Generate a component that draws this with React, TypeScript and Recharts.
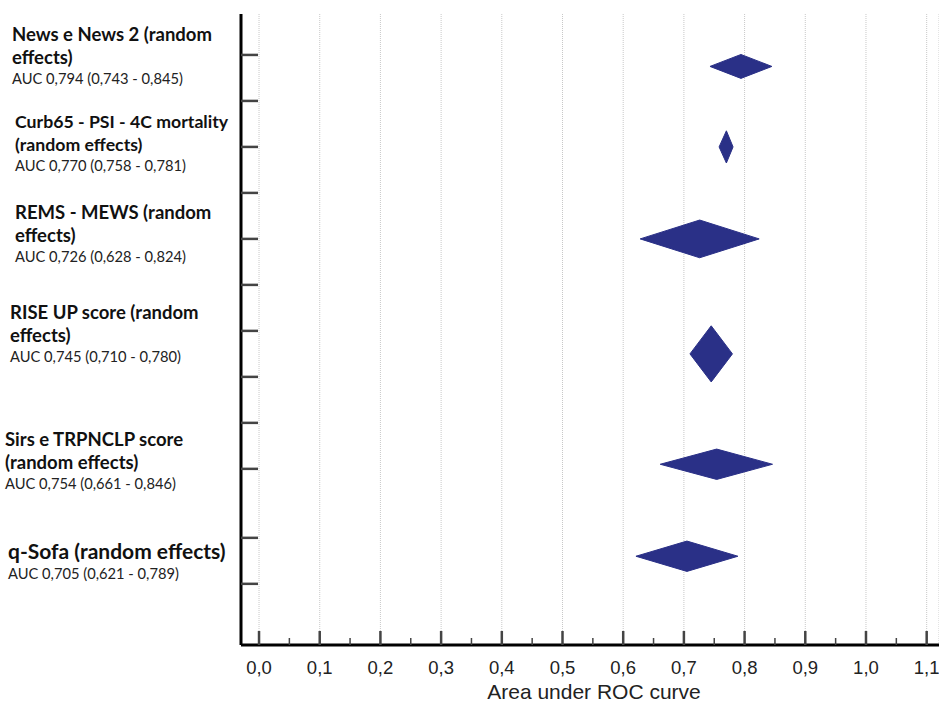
import React from "react";
import {
  ComposedChart,
  Scatter,
  XAxis,
  YAxis,
  CartesianGrid,
} from "recharts";

// ---------- data ----------
const titles: string[][] = [
  ["News e News 2 (random", "effects)"],
  ["Curb65 - PSI - 4C mortality", "(random effects)"],
  ["REMS - MEWS (random", "effects)"],
  ["RISE UP score (random", "effects)"],
  ["Sirs e TRPNCLP score", "(random effects)"],
  ["q-Sofa (random effects)"],
];
const auc = [0.794, 0.77, 0.726, 0.745, 0.754, 0.705];
const lo = [0.743, 0.758, 0.628, 0.71, 0.661, 0.621];
const hi = [0.845, 0.781, 0.824, 0.78, 0.846, 0.789];
const rowY = [1.25, 3, 5, 7.5, 9.9, 11.9];
const yTicks = [1, 2, 3, 4, 5, 6, 7, 8, 9, 10, 11.5, 12.5];
const majorTicks = [0, 0.1, 0.2, 0.3, 0.4, 0.5, 0.6, 0.7, 0.8, 0.9, 1.0, 1.1];
const minorTicks = [0.05, 0.15, 0.25, 0.35, 0.45, 0.55, 0.65, 0.75, 0.85, 0.95, 1.05];
const xTitle = "Area under ROC curve";

// ---------- layout / style ----------
const W = 939;
const H = 704;
const X_DOMAIN: [number, number] = [-0.0297, 1.1203];
const Y_DOMAIN: [number, number] = [0.11, 13.83];
const halfHeight = [0.26, 0.35, 0.41, 0.61, 0.33, 0.33];
const labelX = [12, 15, 15, 10, 5, 8];
const labelDy = [-25, -19, -20, -35, -18, 3];
const titleSize = [18.5, 17.7, 18.5, 18.5, 18.5, 21];
const DIAMOND = "#2a3087";
const LABEL_FONT = "Lato, 'Open Sans', sans-serif";
const AXIS_FONT = "'Liberation Sans', Arial, sans-serif";

const fmt3 = (v: number) => v.toFixed(3).replace(".", ",");
const fmt1 = (v: number) => v.toFixed(1).replace(".", ",");

const allXTicks = [...majorTicks, ...minorTicks].sort((a, b) => a - b);

const diamonds = auc.map((a, i) => [
  { x: lo[i], y: rowY[i] },
  { x: a, y: rowY[i] - halfHeight[i] },
  { x: hi[i], y: rowY[i] },
  { x: a, y: rowY[i] + halfHeight[i] },
  { x: lo[i], y: rowY[i] },
]);

const XTick = (props: any) => {
  const { x, y, payload } = props;
  const v = payload.value as number;
  const isMajor = majorTicks.some((m) => Math.abs(m - v) < 1e-6);
  return (
    <g>
      <line
        x1={x}
        x2={x}
        y1={y}
        y2={y - (isMajor ? 14 : 7)}
        stroke="#444"
        strokeWidth={isMajor ? 2.5 : 1.5}
      />
      {isMajor && (
        <text
          x={x}
          y={y + 29}
          textAnchor="middle"
          fontFamily={AXIS_FONT}
          fontSize={18.5}
          fill="#222"
        >
          {fmt1(v)}
        </text>
      )}
    </g>
  );
};

const RowTick = (props: any) => {
  const { x, y } = props;
  return <line x1={x} x2={x + 17} y1={y} y2={y} stroke="#444" strokeWidth={2.5} />;
};

const LabelTick = (props: any) => {
  const { y, index } = props;
  const i = index as number;
  const lines = titles[i];
  const base = y + labelDy[i];
  const lastTitle = base + (lines.length - 1) * 23;
  return (
    <g>
      <text
        fontFamily={LABEL_FONT}
        fontWeight={700}
        fontSize={titleSize[i]}
        fill="#111"
      >
        {lines.map((t, k) => (
          <tspan key={k} x={labelX[i]} y={base + k * 23}>
            {t}
          </tspan>
        ))}
      </text>
      <text
        x={labelX[i]}
        y={lastTitle + 20}
        fontFamily={LABEL_FONT}
        fontSize={14.7}
        fill="#222"
      >
        {`AUC ${fmt3(auc[i])} (${fmt3(lo[i])} - ${fmt3(hi[i])})`}
      </text>
    </g>
  );
};

export default function App() {
  return (
    <div style={{ width: W, height: H, background: "#fff" }}>
      <style>{`body{margin:0;}`}</style>
      <ComposedChart
        width={W}
        height={H}
        margin={{ top: 14, right: 0, bottom: 0, left: 0 }}
      >
        <XAxis
          xAxisId="grid"
          type="number"
          dataKey="x"
          domain={X_DOMAIN}
          ticks={majorTicks}
          interval={0}
          allowDataOverflow
          hide
        />
        <CartesianGrid
          xAxisId="grid"
          yAxisId="rows"
          horizontal={false}
          stroke="#c8c8c8"
          strokeDasharray="1 1"
        />
        <XAxis
          type="number"
          dataKey="x"
          domain={X_DOMAIN}
          ticks={allXTicks}
          interval={0}
          allowDataOverflow
          height={59}
          tickSize={0}
          tickMargin={0}
          tickLine={false}
          tick={<XTick />}
          axisLine={{ stroke: "#000", strokeWidth: 3 }}
          label={{
            value: xTitle,
            position: "insideBottom",
            offset: 5,
            dx: 4,
            fontFamily: AXIS_FONT,
            fontSize: 21,
            fill: "#222",
          }}
        />
        <YAxis
          yAxisId="rows"
          type="number"
          dataKey="y"
          domain={Y_DOMAIN}
          reversed
          allowDataOverflow
          ticks={yTicks}
          interval={0}
          mirror
          width={30}
          tickSize={0}
          tickMargin={0}
          tickLine={false}
          tick={<RowTick />}
          axisLine={{ stroke: "#000", strokeWidth: 3 }}
        />
        <YAxis
          yAxisId="labels"
          type="number"
          domain={Y_DOMAIN}
          reversed
          allowDataOverflow
          ticks={rowY}
          interval={0}
          width={241}
          axisLine={false}
          tickLine={false}
          tick={<LabelTick />}
        />
        {diamonds.map((d, i) => (
          <Scatter
            key={i}
            data={d}
            yAxisId="rows"
            fill={DIAMOND}
            line={{ fill: DIAMOND, stroke: DIAMOND, strokeWidth: 1 }}
            lineType="joint"
            shape={() => <g />}
            isAnimationActive={false}
          />
        ))}
      </ComposedChart>
    </div>
  );
}
